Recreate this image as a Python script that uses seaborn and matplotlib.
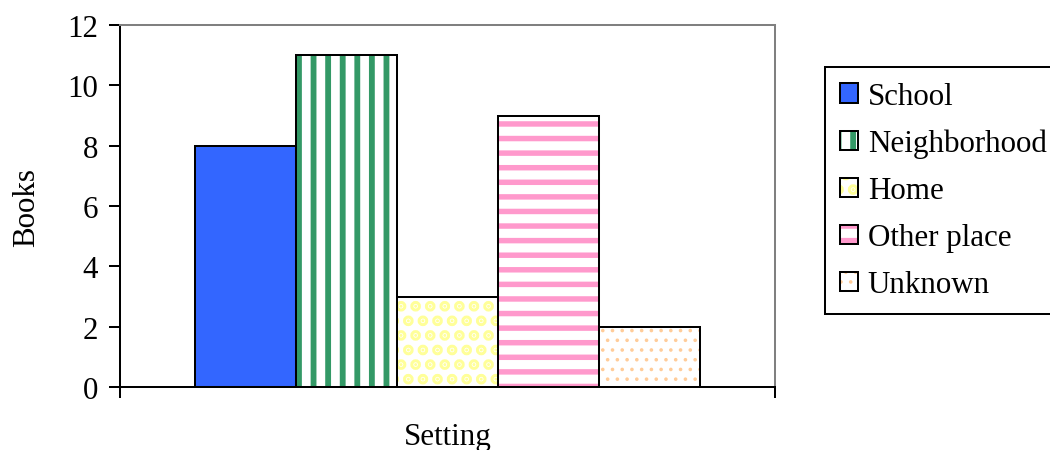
"""
Books by setting - clustered bar chart with patterned fills
"""

import matplotlib.pyplot as plt
import pandas as pd
import seaborn as sns
from matplotlib.colors import to_rgba

# Data
category = ["Setting"]
places = ["School", "Neighborhood", "Home", "Other place", "Unknown"]
books = [8, 11, 3, 9, 2]
y_ticks = [0, 2, 4, 6, 8, 10, 12]

DPI = 175
S = 131.25 / DPI  # sizes below were tuned at 131.25 dpi


def pt(v):
    return v * S


# Fill styles per series: (face, hatch, hatch colour, hatch linewidth)
fills = {
    "School": ("#3366FF", "", "#3366FF", 1.0),
    "Neighborhood": ("white", "||", "#339966", 3.2),
    "Home": ("white", "..", "#FFFF99", 4.2),
    "Other place": ("white", "--", "#FF99CC", 3.0),
    "Unknown": ("white", "...", "#FFCC99", 0.9),
}

sns.set_theme(style="white")
plt.rcParams["font.family"] = ["Liberation Serif", "DejaVu Serif"]
plt.rcParams["text.color"] = "black"
plt.rcParams["axes.labelcolor"] = "black"
plt.rcParams["xtick.color"] = "black"
plt.rcParams["ytick.color"] = "black"

fs = pt(17)
fig = plt.figure(figsize=(1050 / DPI, 451 / DPI), dpi=DPI)
ax = fig.add_axes([120 / 1050, 1 - 388 / 451, 655 / 1050, 362 / 451])

df = pd.DataFrame({"setting": category * len(places), "place": places, "books": books})
sns.barplot(
    data=df,
    x="setting",
    y="books",
    hue="place",
    hue_order=places,
    palette=[fills[p][0] for p in places],
    saturation=1,
    width=0.8,
    edgecolor="black",
    linewidth=pt(1.1),
    legend=False,
    ax=ax,
)


def style_patch(patch, name):
    face, hatch, hcolor, hlw = fills[name]
    patch.set_facecolor(face)
    patch.set_edgecolor("black")
    patch.set_hatch(hatch)
    patch._hatch_color = to_rgba(hcolor)
    if hasattr(patch, "set_hatch_linewidth"):
        patch.set_hatch_linewidth(pt(hlw))
    else:
        patch._hatch_linewidth = pt(hlw)


bars = list(ax.patches)
for bar, name in zip(bars, places):
    style_patch(bar, name)

# Axes
half = 0.4 * 655 / 505
ax.set_xlim(-half, half)
ax.set_ylim(0, 12)
ax.set_yticks(y_ticks)
ax.set_xticks([-half, half])
ax.set_xticklabels(["", ""])
ax.tick_params(axis="y", direction="out", length=pt(6), width=pt(1.1),
               labelsize=fs, left=True, pad=pt(6))
ax.tick_params(axis="x", direction="out", length=pt(6), width=pt(1.1), bottom=True)
ax.set_ylabel("Books", fontsize=fs, labelpad=pt(14))
ax.set_xlabel("Setting", fontsize=fs, labelpad=pt(8.5))

for side in ["left", "bottom"]:
    ax.spines[side].set_color("black")
    ax.spines[side].set_linewidth(pt(1.1))
for side in ["top", "right"]:
    ax.spines[side].set_color("#808080")
    ax.spines[side].set_linewidth(pt(1.1))

leg = ax.legend(
    handles=bars,
    labels=places,
    loc="upper left",
    bbox_to_anchor=(825 / 1050, 1 - 68 / 451),
    bbox_transform=fig.transFigure,
    fontsize=fs,
    frameon=True,
    fancybox=False,
    framealpha=1,
    edgecolor="black",
    borderpad=0.48,
    borderaxespad=0,
    handlelength=0.6,
    handleheight=0.6,
    handletextpad=0.3,
    labelspacing=0.58,
)
leg.get_frame().set_linewidth(pt(1.1))
for patch, name in zip(leg.get_patches(), places):
    style_patch(patch, name)

fig.savefig("out.png", dpi=DPI)
